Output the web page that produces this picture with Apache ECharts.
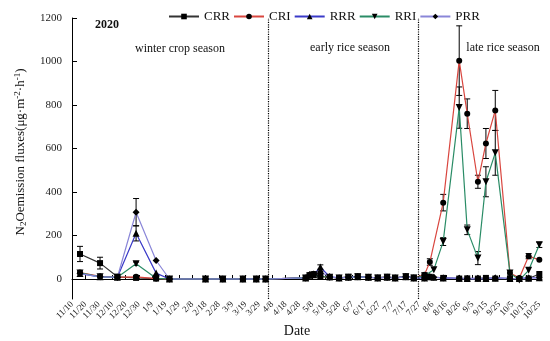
<!DOCTYPE html>
<html>
<head>
<meta charset="utf-8">
<script src="https://cdn.jsdelivr.net/npm/echarts@6/dist/echarts.min.js"></script>
<style>html,body{margin:0;padding:0;background:#fff;}#c{width:550px;height:341px;}</style>
</head>
<body>
<div id="c"></div>
<script>
// Sampling dates (2019-11 .. 2020-10)
const sampleDates = ['11/16','12/1','12/14','12/28','1/12','1/22','2/18','3/2','3/17','3/27','4/3',
  '5/3','5/6','5/9','5/14','5/21','5/28','6/4','6/11','6/19','6/26','7/3','7/9','7/17','7/23',
  '7/31','8/4','8/7','8/14','8/26','9/1','9/9','9/15','9/22','10/3','10/10','10/17','10/25'];

const xTickLabels = ['11/10','11/20','11/30','12/10','12/20','12/30','1/9','1/19','1/29','2/8','2/18','2/28',
  '3/9','3/19','3/29','4/8','4/18','4/28','5/8','5/18','5/28','6/7','6/17','6/27','7/7','7/17','7/27',
  '8/6','8/16','8/26','9/5','9/15','9/25','10/5','10/15','10/25'];
const yTickValues = [0,200,400,600,800,1000,1200];
const seasonBoundaries = ['4/5','7/26'];

const CRR = [115,73,10,5,2,0,0,0,0,0,0, 5,15,20,12,8,5,10,12,8,6,10,5,12,6, 8,10,null,5,2,3,2,5,2,3,0,2,23];
const CRI = [30,12,8,10,2,0,0,0,0,0,0, 5,20,23,12,8,5,8,10,8,5,8,5,10,5, 20,78,null,351,1004,760,447,623,775,27,5,105,88];
const RRR = [25,10,8,210,27,0,0,0,0,0,0, 5,20,20,55,10,5,8,10,8,5,8,5,10,5, 5,10,8,5,3,2,3,2,5,2,3,5,6];
const RRI = [28,10,8,70,3,0,0,0,0,0,0, 5,15,20,12,8,5,8,10,8,5,8,5,10,5, 15,null,43,172,788,226,96,447,580,27,-5,40,157];
const PRR = [25,10,8,307,85,0,0,0,0,0,0, 5,20,23,32,10,5,8,10,8,5,8,5,10,5, 5,10,8,5,3,2,3,2,5,2,3,5,6];

// standard errors
const CRR_err = [35,27];
const CRI_err = {26:15,28:38,29:160,30:68,31:30,32:69,33:92,36:12};
const RRR_err = {3:35,14:10};
const RRI_err = {3:8,28:18,29:95,30:22,31:30,32:69,33:103,37:12};
const PRR_err = {3:63};

function dayOf(md){
  const p = md.split('/').map(Number);
  const y = p[0] >= 11 ? 2019 : 2020;
  return Math.round((Date.UTC(y,p[0]-1,p[1]) - Date.UTC(2019,10,10))/86400000);
}
const xs = sampleDates.map(dayOf);
const FONT = "'Liberation Serif','Times New Roman',serif";

const defs = [
  {name:'CRR', data:CRR, err:CRR_err, color:'#333333', symbol:'rect', size:6, rot:0},
  {name:'CRI', data:CRI, err:CRI_err, color:'#d9463f', symbol:'circle', size:6, rot:0},
  {name:'RRR', data:RRR, err:RRR_err, color:'#3a3ac8', symbol:'triangle', size:7, rot:0},
  {name:'RRI', data:RRI, err:RRI_err, color:'#2a8c66', symbol:'triangle', size:7, rot:180},
  {name:'PRR', data:PRR, err:PRR_err, color:'#8a86d8', symbol:'diamond', size:7, rot:0}
];

const series = [];
const errData = [];
defs.forEach(d => {
  series.push({
    name:d.name, type:'line', data:d.data.map((v,i)=>[xs[i], v]),
    connectNulls:true, symbol:d.symbol, symbolSize:d.size, symbolRotate:d.rot,
    showSymbol:true, lineStyle:{color:d.color, width:1.2},
    itemStyle:{color:'#000'}, z:3
  });
  Object.keys(d.err).forEach(k => {
    const i = +k; const e = d.err[k];
    if (e != null && d.data[i] != null) errData.push([xs[i], d.data[i], e]);
  });
});

series.push({
  type:'custom', name:'err', data:errData, z:2, silent:true,
  encode:{x:0, y:1},
  renderItem:function(params, api){
    const x = api.value(0), y = api.value(1), e = api.value(2);
    const t = api.coord([x, y+e]), b = api.coord([x, y-e]);
    const w = 3, st = {stroke:'#000', lineWidth:1};
    return {type:'group', children:[
      {type:'line', shape:{x1:t[0],y1:t[1],x2:b[0],y2:b[1]}, style:st},
      {type:'line', shape:{x1:t[0]-w,y1:t[1],x2:t[0]+w,y2:t[1]}, style:st},
      {type:'line', shape:{x1:b[0]-w,y1:b[1],x2:b[0]+w,y2:b[1]}, style:st}
    ]};
  }
});

// season divider lines
series.push({
  type:'line', name:'div', data:[], silent:true,
  markLine:{symbol:'none', silent:true, label:{show:false},
    lineStyle:{color:'#000', type:'dotted', width:1.2},
    data: seasonBoundaries.map(s => ({xAxis: dayOf(s)}))}
});

const tickVals = xTickLabels.map((_,i)=>i*10);

const chart = echarts.init(document.getElementById('c'), null, {renderer:'canvas'});
chart.setOption({
  animation:false,
  backgroundColor:'#fff',
  textStyle:{fontFamily:FONT},
  grid:{left:72, right:8, top:18, bottom:42, containLabel:false},
  legend:{
    data:defs.map(d=>d.name), top:5, left:163, itemWidth:30, itemHeight:7, itemGap:3,
    textStyle:{fontFamily:FONT, fontSize:13, color:'#111'}
  },
  xAxis:{
    type:'value', min:0, max:352,
    axisLine:{lineStyle:{color:'#000', width:1}},
    axisTick:{inside:true, length:4, customValues:tickVals, lineStyle:{color:'#000'}},
    axisLabel:{customValues:tickVals, rotate:45, fontSize:9, fontFamily:FONT, color:'#222', margin:4,
      formatter:function(v){ return xTickLabels[Math.round(v/10)] || ''; }},
    splitLine:{show:false}
  },
  yAxis:{
    type:'value', min:-92, max:1200,
    axisLine:{show:true, lineStyle:{color:'#000', width:1}},
    axisTick:{show:true, inside:true, length:5, customValues:yTickValues, lineStyle:{color:'#000'}},
    axisLabel:{customValues:yTickValues, fontSize:11, fontFamily:FONT, color:'#222', margin:10,
      formatter:function(v){ return String(v); }},
    splitLine:{show:false}
  },
  graphic:[
    {type:'text', left:95, top:19, style:{text:'2020', font:"bold 12px "+FONT, fill:'#111'}},
    {type:'text', x:180, y:49, style:{text:'winter crop season', font:"12px "+FONT, fill:'#111', align:'center', verticalAlign:'middle'}},
    {type:'text', x:350, y:48, style:{text:'early rice season', font:"12px "+FONT, fill:'#111', align:'center', verticalAlign:'middle'}},
    {type:'text', x:503, y:48, style:{text:'late rice season', font:"12px "+FONT, fill:'#111', align:'center', verticalAlign:'middle'}},
    {type:'text', x:297, y:331, style:{text:'Date', font:"14px "+FONT, fill:'#111', align:'center', verticalAlign:'middle'}},
    {type:'text', x:21, y:152, rotation:Math.PI/2,
      style:{text:'N{sub|2}Oemission fluxes(μg·m{sup|-2}·h{sup|-1})', font:"13px "+FONT, fill:'#111',
        align:'center', verticalAlign:'middle',
        rich:{sub:{fontSize:9, fontFamily:FONT, verticalAlign:'bottom', padding:[6,0,0,0]},
              sup:{fontSize:9, fontFamily:FONT, verticalAlign:'top', padding:[0,0,6,0]}}}}
  ],
  series:series
});
</script>
</body>
</html>
